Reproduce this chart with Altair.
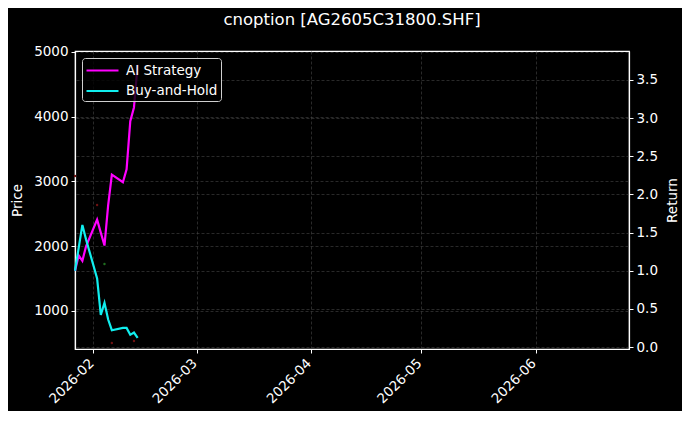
import altair as alt
import pandas as pd

# ---- data ----
dates = ["2026-01-27", "2026-01-28", "2026-01-29", "2026-01-30", "2026-02-02",
         "2026-02-03", "2026-02-04", "2026-02-05", "2026-02-06", "2026-02-09",
         "2026-02-10", "2026-02-11", "2026-02-12", "2026-02-13"]
ai_strategy = [1.00, 1.20, 1.13, 1.32, 1.67, 1.50, 1.33, 1.86, 2.26, 2.16,
               2.33, 2.96, 3.14, 3.70]
buy_and_hold = [1.00, 1.30, 1.60, 1.41, 0.90, 0.42, 0.58, 0.36, 0.22, 0.25,
                0.25, 0.16, 0.19, 0.12]

marker_dates = ["2026-01-27", "2026-02-02", "2026-02-04", "2026-02-06", "2026-02-12"]
marker_prices = [3085, 2637, 1726, 506, 537]
marker_colors = ["#6e1212", "#6e1212", "#1f6e1f", "#6e1212", "#6e1212"]

series_names = ["AI Strategy", "Buy-and-Hold"]
series_colors = ["#ff00ff", "#10eeee"]
price_ticks = [1000, 2000, 3000, 4000, 5000]
return_ticks = [0.0, 0.5, 1.0, 1.5, 2.0, 2.5, 3.0, 3.5]
month_ticks = [2, 3, 4, 5, 6]

title_text = "cnoption [AG2605C31800.SHF]"

# ---- tables ----
lines_df = pd.DataFrame({
    "date": [d + "T00:00:00" for d in dates] * 2,
    "value": ai_strategy + buy_and_hold,
    "series": [series_names[0]] * len(dates) + [series_names[1]] * len(dates),
})
marks_df = pd.DataFrame({
    "date": [d + "T00:00:00" for d in marker_dates],
    "price": marker_prices,
    "color": marker_colors,
})

FONT = "DejaVu Sans"
W, H = 554, 298

x_enc = alt.X(
    "date:T",
    scale=alt.Scale(domain=[alt.DateTime(year=2026, month=1, date=27),
                            alt.DateTime(year=2026, month=6, date=26, hours=8)]),
    axis=alt.Axis(
        title=None,
        values=[alt.DateTime(year=2026, month=m, date=1) for m in month_ticks],
        format="%Y-%m",
        labelAngle=315,
        labelAlign="right",
        labelBaseline="top",
        labelPadding=3,
        labelOffset=-7,
        grid=True,
    ),
)

price_layer = alt.Chart(marks_df).mark_point(filled=True, size=6, opacity=1).encode(
    x=x_enc,
    y=alt.Y(
        "price:Q",
        scale=alt.Scale(domain=[413, 5015], nice=False, zero=False),
        axis=alt.Axis(
            title="Price",
            orient="left",
            values=price_ticks,
            format="d",
            grid=True,
            titleX=-58,
            titleY=H / 2,
            titleAngle=270,
            titleBaseline="middle",
            titleAlign="center",
        ),
    ),
    color=alt.Color("color:N", scale=None),
)

line_layer = alt.Chart(lines_df).mark_line(strokeWidth=2.2).encode(
    x=x_enc,
    y=alt.Y(
        "value:Q",
        scale=alt.Scale(domain=[-0.026, 3.88], nice=False, zero=False),
        axis=alt.Axis(
            title="Return",
            orient="right",
            values=return_ticks,
            format=".1f",
            grid=True,
            titleX=43,
            titleY=H / 2,
            titleAngle=270,
            titleBaseline="middle",
            titleAlign="center",
        ),
    ),
    color=alt.Color(
        "series:N",
        scale=alt.Scale(domain=series_names, range=series_colors),
        legend=alt.Legend(
            title=None,
            orient="none",
            legendX=7,
            legendY=7,
            symbolType="M-2,0H2",
            symbolStrokeWidth=2.2,
            symbolSize=256,
            symbolOffset=8,
            labelFontSize=13.5,
            labelColor="#ffffff",
            labelFont=FONT,
            labelOffset=14,
            fillColor="rgba(0,0,0,0.8)",
            strokeColor="#d0d0d0",
            cornerRadius=3,
            padding=3,
            rowPadding=4.5,
        ),
    ),
)

chart = (
    alt.layer(price_layer, line_layer)
    .resolve_scale(y="independent", color="independent")
    .properties(
        width=W,
        height=H,
        autosize=alt.AutoSizeParams(type="none"),
        padding={"left": 67, "top": 43, "right": 53, "bottom": 62},
        background="#000000",
        title=alt.TitleParams(
            title_text,
            fontSize=16.5,
            font=FONT,
            fontWeight="normal",
            color="#ffffff",
            anchor="middle",
            frame="group",
            offset=16,
        ),
    )
    .configure_view(stroke="#ffffff", strokeWidth=1.2)
    .configure_axis(
        labelFont=FONT,
        labelFontSize=13.5,
        labelColor="#ffffff",
        titleFont=FONT,
        titleFontSize=13.5,
        titleFontWeight="normal",
        titleColor="#ffffff",
        domainColor="#ffffff",
        domainWidth=1.2,
        tickColor="#ffffff",
        tickSize=4,
        tickWidth=1,
        labelPadding=3,
        gridColor="#4a4a4a",
        gridDash=[3, 2],
        gridWidth=0.7,
        gridOpacity=0.8,
    )
)

chart.save("out.html", embed_options={"renderer": "svg", "actions": False})
